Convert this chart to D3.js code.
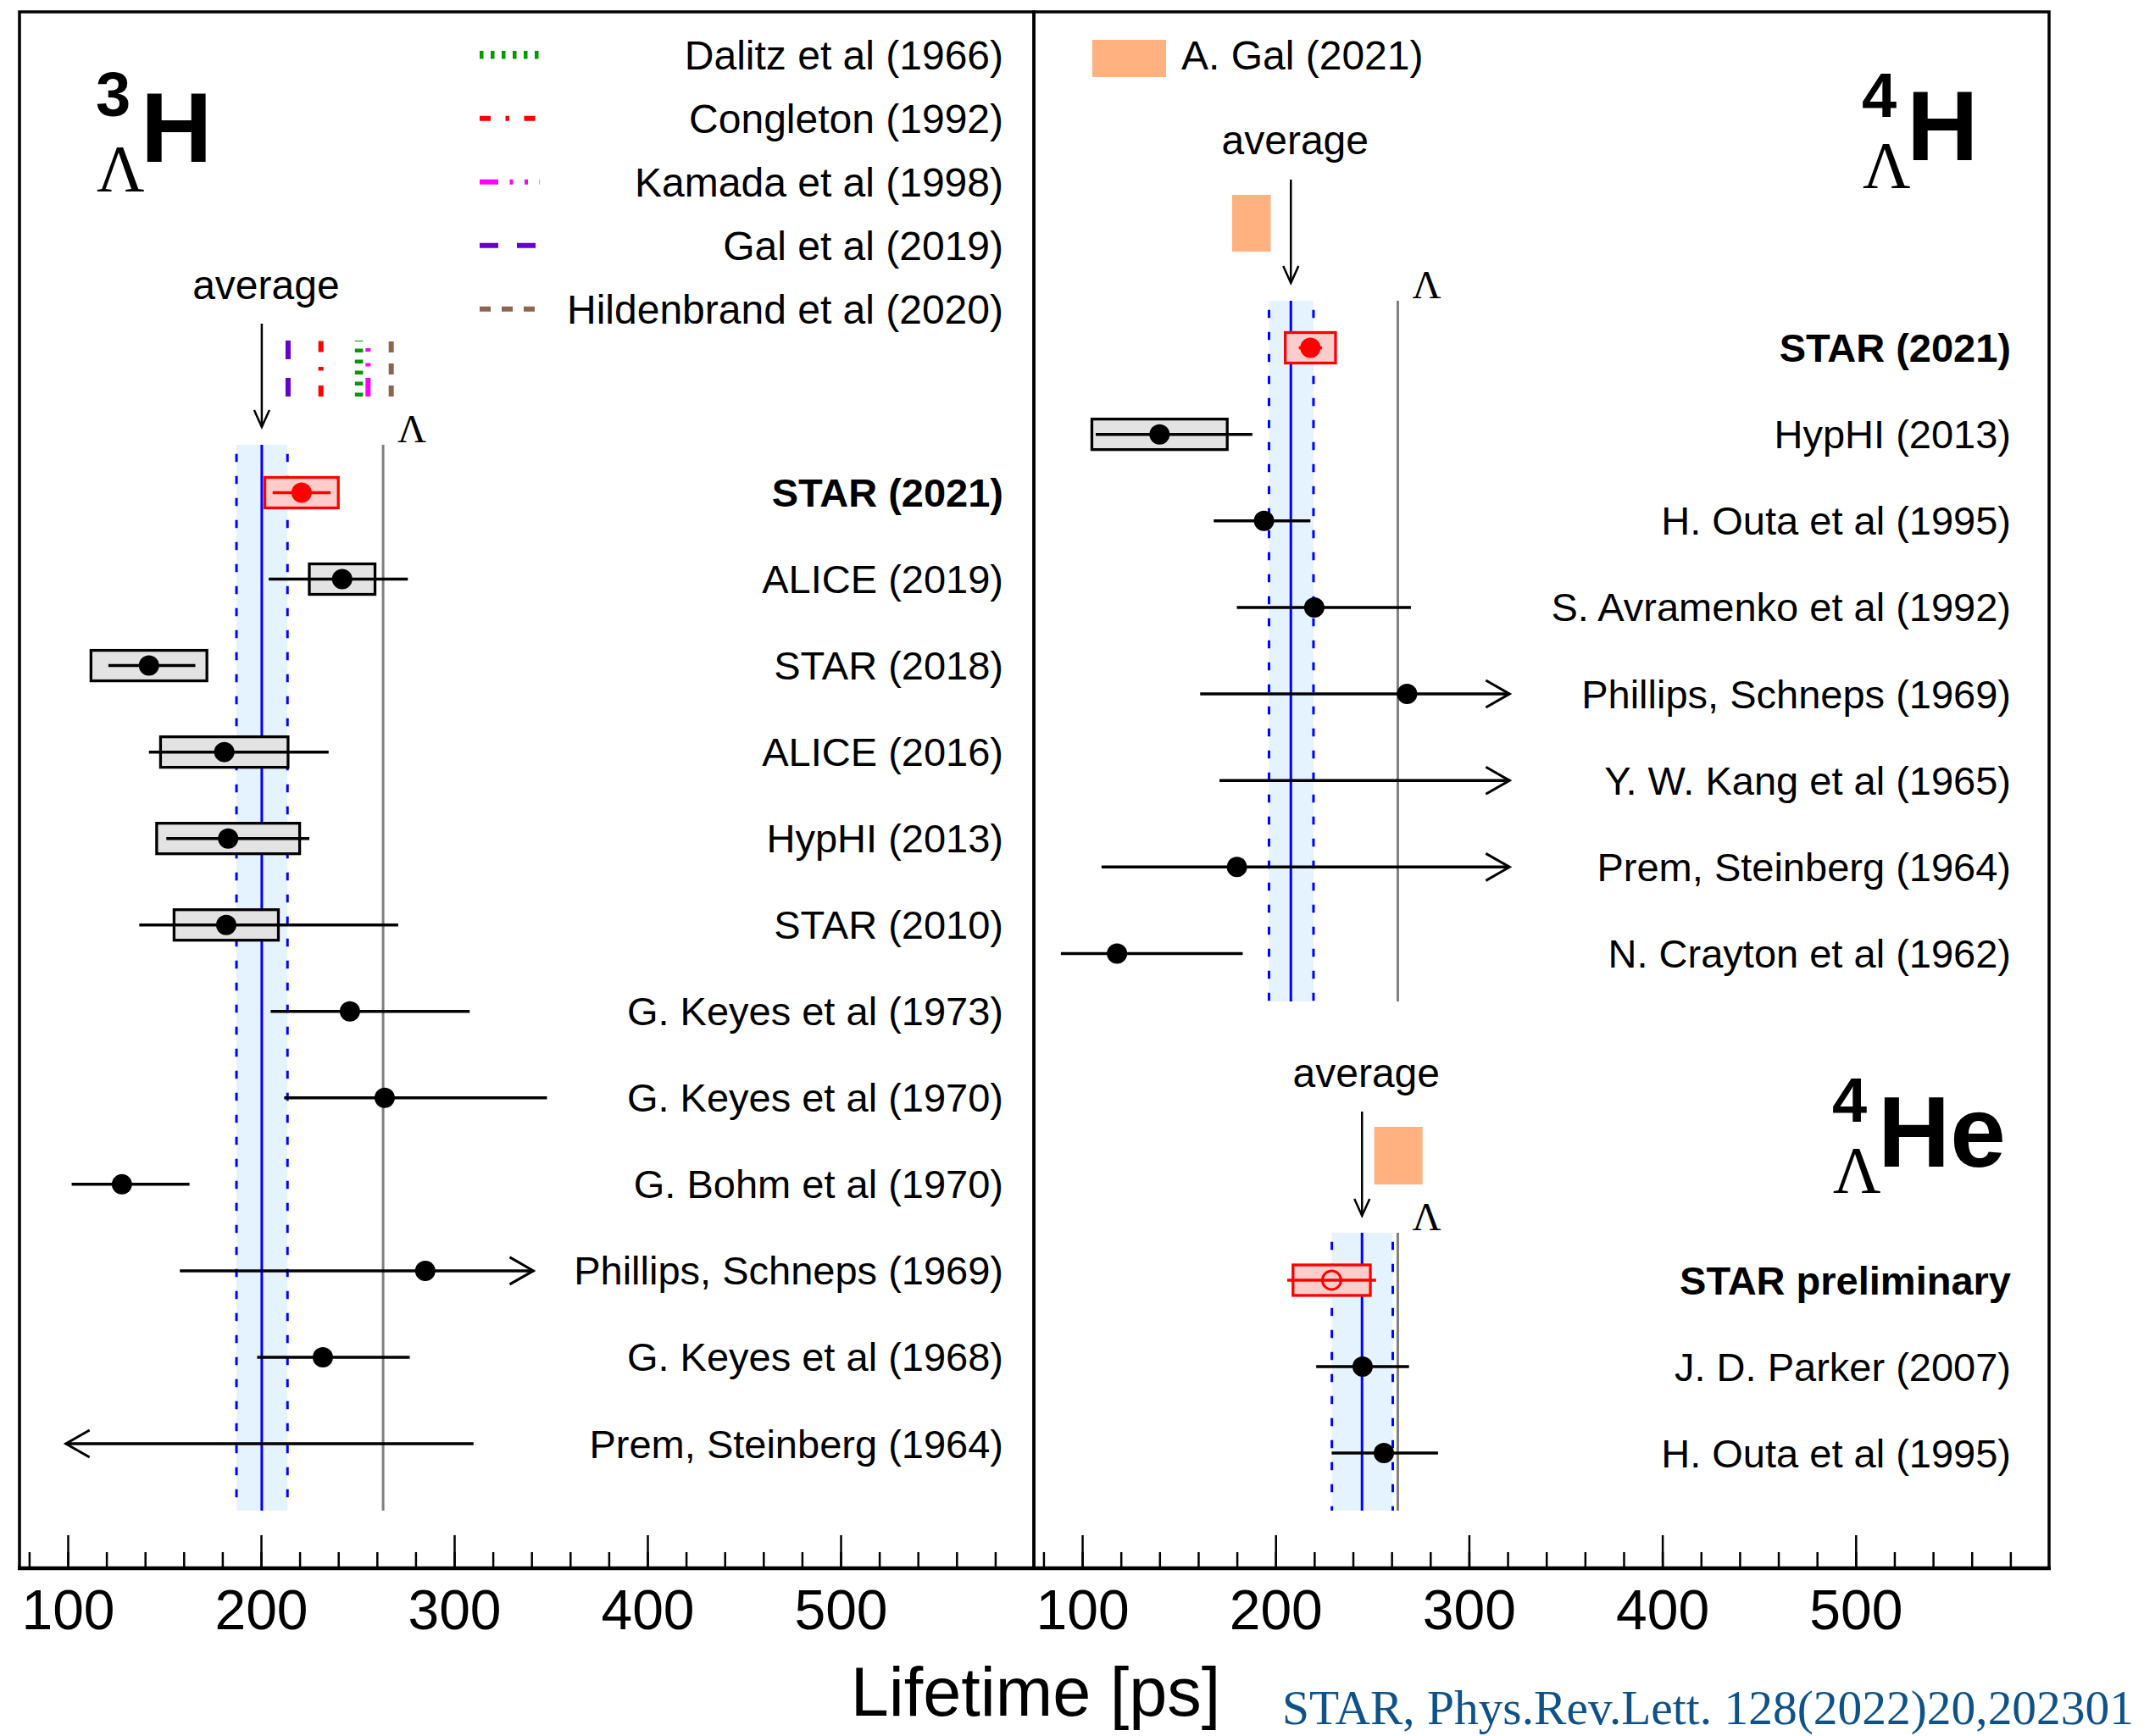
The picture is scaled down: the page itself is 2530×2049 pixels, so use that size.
<!DOCTYPE html>
<html>
<head>
<meta charset="utf-8">
<script src="https://cdn.jsdelivr.net/npm/d3@7"></script>
<style>
  body { margin: 0; background: #fff; }
  svg { display: block; font-family: "Liberation Sans", Arial, Helvetica, sans-serif; }
</style>
</head>
<body>
<svg id="chart" width="2530" height="2049"></svg>
<script>
// ---- hypertriton (3ΛH) measurements, lifetime in ps ----
const h3Names = ["STAR (2021)", "ALICE (2019)", "STAR (2018)", "ALICE (2016)", "HypHI (2013)", "STAR (2010)",
  "G. Keyes et al (1973)", "G. Keyes et al (1970)", "G. Bohm et al (1970)", "Phillips, Schneps (1969)",
  "G. Keyes et al (1968)", "Prem, Steinberg (1964)"];
const h3Tau = [221, 242, 142, 181, 183, 182, 246, 264, 128, 285, 232, null];
const h3Lo = [206, 204, 121, 142, 151, 137, 205, 212, 102, 158, 198, 99];
const h3Hi = [236, 276, 166, 235, 225, 271, 308, 348, 163, 341, 277, 310];
const h3Sys = [19, 17, 30, 33, 37, 27, 0, 0, 0, 0, 0, 0];
const h3Arrow = ["", "", "", "", "", "", "", "", "", "right", "", "left"];
const h3Avg = [187.3, 200.4, 213.7]; // lower, mean, upper

// theory lines for 3ΛH
const thNames = ["Dalitz et al (1966)", "Congleton (1992)", "Kamada et al (1998)", "Gal et al (2019)", "Hildenbrand et al (2020)"];
const thTau = [250.7, 231, 255.4, 214, 267.4];
const thColor = ["#009900", "#ff0000", "#ff00ff", "#6600cc", "#8c6450"];
const thDash = ["4.5,8.5", "13,17.5,4.5,17.5", "22,13.5,4,13.5,4,13.5,4,13.5", "22,22", "13,13"];
const thWidth = [9.5, 6, 6, 6, 6];

// ---- 4ΛH ----
const h4Names = ["STAR (2021)", "HypHI (2013)", "H. Outa et al (1995)", "S. Avramenko et al (1992)",
  "Phillips, Schneps (1969)", "Y. W. Kang et al (1965)", "Prem, Steinberg (1964)", "N. Crayton et al (1962)"];
const h4Tau = [218, 140, 194, 220, 268, null, 180, 118];
const h4Lo = [212, 107, 168, 180, 161, 171, 110, 89];
const h4Hi = [224, 188, 218, 270, 321, 321, 321, 183];
const h4Sys = [13, 35, 0, 0, 0, 0, 0, 0];
const h4Arrow = ["", "", "", "", "right", "right", "right", ""];
const h4Avg = [196.6, 207.9, 219.6];
const h4Gal = [177.5, 197.5];

// ---- 4ΛHe ----
const he4Names = ["STAR preliminary", "J. D. Parker (2007)", "H. Outa et al (1995)"];
const he4Tau = [229, 245, 256];
const he4Lo = [206, 221, 229];
const he4Hi = [252, 269, 284];
const he4Sys = [20, 0, 0];
const he4Arrow = ["", "", ""];
const he4Avg = [229.1, 244.7, 260.6];
const he4Gal = [251, 276];

const lambdaTau = 263.2;
const majorTicks = [100, 200, 300, 400, 500];
const minorTicks = d3.range(80, 600, 20);

// ---- layout ----
const svg = d3.select("#chart");
const axisY = 1851, frameTop = 14;
const xL = d3.scaleLinear().domain([75, 600]).range([23, 1220]);
const xR = d3.scaleLinear().domain([75, 600]).range([1220, 2418]);
const yH3 = d3.scaleLinear().domain([0, h3Names.length - 1]).range([581.5, 1704]);
const yH4 = d3.scaleLinear().domain([0, h4Names.length - 1]).range([410.5, 1125.5]);
const yHe4 = d3.scaleLinear().domain([0, he4Names.length - 1]).range([1511, 1715]);
const galColor = "#ffb280";

function band(x, avg, top, bottom) {
  const g = svg.append("g");
  g.append("rect").attr("x", x(avg[0])).attr("y", top)
    .attr("width", x(avg[2]) - x(avg[0])).attr("height", bottom - top).attr("fill", "#e5f3ff");
  [avg[0], avg[2]].forEach(v => g.append("line")
    .attr("x1", x(v)).attr("x2", x(v)).attr("y1", top).attr("y2", bottom)
    .attr("stroke", "#0000ff").attr("stroke-width", 3)
    .attr("stroke-dasharray", "9.5,16.5").attr("stroke-dashoffset", 15.3));
  g.append("line").attr("x1", x(avg[1])).attr("x2", x(avg[1])).attr("y1", top).attr("y2", bottom)
    .attr("stroke", "#0000ff").attr("stroke-width", 3);
  // free lambda line
  g.append("line").attr("x1", x(lambdaTau)).attr("x2", x(lambdaTau)).attr("y1", top).attr("y2", bottom)
    .attr("stroke", "#7f7f7f").attr("stroke-width", 3);
  g.append("text").attr("x", x(lambdaTau) + 17).attr("y", top - 3)
    .attr("font-family", "'Liberation Serif', 'Times New Roman', serif").attr("font-size", 47)
    .text("Λ");
}

function averageArrow(x, v, yTop, yTip, textY) {
  const ax = x(v);
  svg.append("text").attr("x", ax + 5).attr("y", textY).attr("text-anchor", "middle")
    .attr("font-size", 48).text("average");
  svg.append("line").attr("x1", ax).attr("x2", ax).attr("y1", yTop).attr("y2", yTip)
    .attr("stroke", "#000").attr("stroke-width", 2.5);
  svg.append("path").attr("d", `M${ax - 9},${yTip - 20}L${ax},${yTip}L${ax + 9},${yTip - 20}`)
    .attr("fill", "none").attr("stroke", "#000").attr("stroke-width", 2.5);
}

function drawRows(x, y, labelX, names, tau, lo, hi, sys, arrows, hollowFirst) {
  const g = svg.append("g");
  names.forEach((name, i) => {
    const yy = y(i);
    const hl = i === 0;
    const col = hl ? "#ff0000" : "#000";
    if (sys[i] > 0) {
      g.append("rect").attr("x", x(tau[i] - sys[i])).attr("y", yy - 18)
        .attr("width", x(tau[i] + sys[i]) - x(tau[i] - sys[i])).attr("height", 36)
        .attr("fill", hl ? "#ffcccc" : "#e3e3e3").attr("stroke", col).attr("stroke-width", 3.3);
    }
    g.append("line").attr("x1", x(lo[i])).attr("x2", x(hi[i])).attr("y1", yy).attr("y2", yy)
      .attr("stroke", col).attr("stroke-width", 3.5);
    if (arrows[i] === "right") {
      const t = x(hi[i]);
      g.append("path").attr("d", `M${t - 28},${yy - 16}L${t},${yy}L${t - 28},${yy + 16}`)
        .attr("fill", "none").attr("stroke", col).attr("stroke-width", 3);
    } else if (arrows[i] === "left") {
      const t = x(lo[i]);
      g.append("path").attr("d", `M${t + 28},${yy - 16}L${t},${yy}L${t + 28},${yy + 16}`)
        .attr("fill", "none").attr("stroke", col).attr("stroke-width", 3);
    }
    if (tau[i] != null) {
      if (hl && hollowFirst) {
        g.append("circle").attr("cx", x(tau[i])).attr("cy", yy).attr("r", 11)
          .attr("fill", "none").attr("stroke", col).attr("stroke-width", 3);
      } else {
        g.append("circle").attr("cx", x(tau[i])).attr("cy", yy).attr("r", 12).attr("fill", col);
      }
    }
    g.append("text").attr("x", labelX).attr("y", yy + 16.5).attr("text-anchor", "end")
      .attr("font-size", 47).attr("font-weight", hl ? "bold" : "normal").text(name);
  });
}

function drawAxis(x) {
  const minor = svg.append("g").attr("transform", `translate(0,${axisY})`)
    .call(d3.axisBottom(x).tickValues(minorTicks).tickSize(-19).tickFormat(""));
  const major = svg.append("g").attr("transform", `translate(0,${axisY})`)
    .call(d3.axisBottom(x).tickValues(majorTicks).tickSize(-39).tickPadding(25).tickFormat(d3.format("d")));
  [minor, major].forEach(a => {
    a.select(".domain").remove();
    a.selectAll("line").attr("stroke", "#000").attr("stroke-width", 2.5);
  });
  major.selectAll("text").attr("font-size", 66).attr("fill", "#000")
    .attr("font-family", "'Liberation Sans', Arial, sans-serif");
}

function nucleus(x, base, mass, sym, opts) {
  const g = svg.append("g");
  g.append("text").attr("x", x).attr("y", base.mass).attr("font-size", 74).attr("font-weight", "bold").text(mass);
  g.append("text").attr("x", x + 1).attr("y", base.lam)
    .attr("font-family", "'Liberation Serif', 'Times New Roman', serif").attr("font-size", 78).text("Λ");
  g.append("text").attr("x", opts.symX).attr("y", base.sym).attr("font-size", opts.size)
    .attr("font-weight", "bold").text(sym);
}

// ---- left panel: 3ΛH ----
band(xL, h3Avg, 525, 1783);
averageArrow(xL, h3Avg[1], 382, 504, 353);
thTau.forEach((v, k) => {
  svg.append("line").attr("x1", xL(v)).attr("x2", xL(v)).attr("y1", 468).attr("y2", 402)
    .attr("stroke", thColor[k]).attr("stroke-width", thWidth[k]).attr("stroke-dasharray", thDash[k]);
  const ly = 64.7 + k * 75;
  svg.append("line").attr("x1", 566).attr("x2", 637).attr("y1", ly).attr("y2", ly)
    .attr("stroke", thColor[k]).attr("stroke-width", thWidth[k]).attr("stroke-dasharray", thDash[k]);
  svg.append("text").attr("x", 1184).attr("y", ly + 17).attr("text-anchor", "end")
    .attr("font-size", 48).text(thNames[k]);
});
drawRows(xL, yH3, 1184, h3Names, h3Tau, h3Lo, h3Hi, h3Sys, h3Arrow, false);
nucleus(113, { mass: 137, lam: 225, sym: 191 }, "3", "H", { symX: 166, size: 117 });

// ---- right panel: 4ΛH ----
svg.append("rect").attr("x", 1289).attr("y", 47).attr("width", 87).attr("height", 44).attr("fill", galColor);
svg.append("text").attr("x", 1394).attr("y", 81.5).attr("font-size", 48).text("A. Gal (2021)");
band(xR, h4Avg, 355, 1182);
svg.append("rect").attr("x", xR(h4Gal[0])).attr("y", 230).attr("width", xR(h4Gal[1]) - xR(h4Gal[0]))
  .attr("height", 67).attr("fill", galColor);
averageArrow(xR, h4Avg[1], 212, 334, 182);
drawRows(xR, yH4, 2373, h4Names, h4Tau, h4Lo, h4Hi, h4Sys, h4Arrow, false);
nucleus(2197, { mass: 137.5, lam: 221, sym: 189 }, "4", "H", { symX: 2250, size: 117 });

// ---- right panel: 4ΛHe ----
band(xR, he4Avg, 1455, 1783);
svg.append("rect").attr("x", xR(he4Gal[0])).attr("y", 1330).attr("width", xR(he4Gal[1]) - xR(he4Gal[0]))
  .attr("height", 68).attr("fill", galColor);
averageArrow(xR, he4Avg[1], 1312, 1435, 1283);
drawRows(xR, yHe4, 2373, he4Names, he4Tau, he4Lo, he4Hi, he4Sys, he4Arrow, true);
nucleus(2162, { mass: 1324, lam: 1407, sym: 1377 }, "4", "He", { symX: 2216, size: 118 });

// ---- axes and frames ----
drawAxis(xL);
drawAxis(xR);
[xL, xR].forEach(x => {
  svg.append("rect").attr("x", x.range()[0]).attr("y", frameTop)
    .attr("width", x.range()[1] - x.range()[0]).attr("height", axisY - frameTop)
    .attr("fill", "none").attr("stroke", "#000").attr("stroke-width", 3.5);
});
svg.append("line").attr("x1", 21).attr("x2", 2420).attr("y1", axisY).attr("y2", axisY)
  .attr("stroke", "#000").attr("stroke-width", 4.5);

svg.append("text").attr("x", 1222).attr("y", 2025).attr("text-anchor", "middle")
  .attr("font-size", 81).text("Lifetime [ps]");
svg.append("text").attr("x", 1513).attr("y", 2035)
  .attr("font-family", "'Liberation Serif', 'Times New Roman', serif").attr("font-size", 56)
  .attr("fill", "#0f5288").attr("textLength", 1005).attr("lengthAdjust", "spacingAndGlyphs")
  .text("STAR, Phys.Rev.Lett. 128(2022)20,202301");
</script>
</body>
</html>
